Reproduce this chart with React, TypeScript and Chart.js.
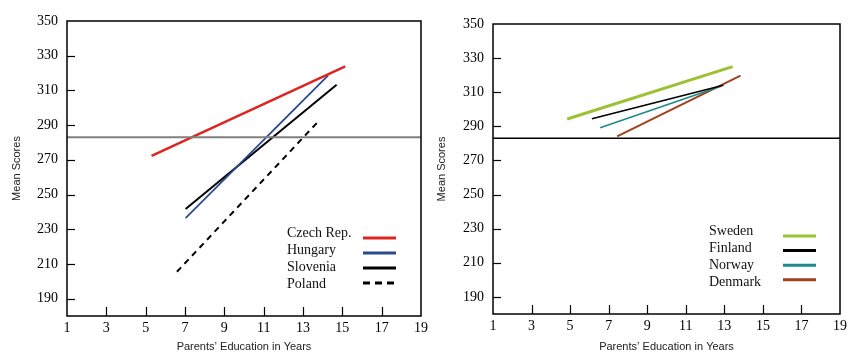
import React, { useEffect, useRef } from "react";
import { Chart, registerables } from "chart.js";

Chart.register(...registerables);

// ---- axes ----
const xTicks = [1, 3, 5, 7, 9, 11, 13, 15, 17, 19];
const yTicks = [190, 210, 230, 250, 270, 290, 310, 330, 350];
const xMin = 1;
const xMax = 19;
const yMin = 180;
const yMax = 350;
const xTitle = "Parents\u2019 Education in Years";
const yTitle = "Mean Scores";

// international average line
const averageScore = 283;

// ---- left panel ----
const czechRep = [
  { x: 5.3, y: 272.3 },
  { x: 15.15, y: 323.8 },
];
const hungary = [
  { x: 7.03, y: 236.4 },
  { x: 14.28, y: 318.6 },
];
const slovenia = [
  { x: 7.03, y: 241.7 },
  { x: 14.71, y: 313.3 },
];
const poland = [
  { x: 6.59, y: 205.5 },
  { x: 13.86, y: 293.1 },
];

// ---- right panel ----
const sweden = [
  { x: 4.85, y: 294.3 },
  { x: 13.43, y: 325.0 },
];
const finland = [
  { x: 6.13, y: 294.5 },
  { x: 12.95, y: 314.1 },
];
const norway = [
  { x: 6.56, y: 289.2 },
  { x: 12.82, y: 313.5 },
];
const denmark = [
  { x: 7.44, y: 284.1 },
  { x: 13.84, y: 319.7 },
];

const SERIF = '"Liberation Serif", "Times New Roman", serif';
const SANS = '"Liberation Sans", Arial, sans-serif';

const framePlugin = {
  id: "frame",
  afterDraw(chart: any, _args: any, opts: any) {
    const { ctx, chartArea: a, scales } = chart;
    const xs = scales.x;
    const ys = scales.y;
    ctx.save();
    // inner tick marks
    ctx.strokeStyle = "#000";
    ctx.lineWidth = 1.2;
    ctx.setLineDash([]);
    ys.ticks.forEach((t: any) => {
      if (t.value <= ys.min || t.value >= ys.max) return;
      const py = Math.round(ys.getPixelForValue(t.value)) + 0.5;
      ctx.beginPath();
      ctx.moveTo(a.left, py);
      ctx.lineTo(a.left + 8, py);
      ctx.stroke();
    });
    xs.ticks.forEach((t: any) => {
      if (t.value <= xs.min || t.value >= xs.max) return;
      const px = Math.round(xs.getPixelForValue(t.value)) + 0.5;
      ctx.beginPath();
      ctx.moveTo(px, a.bottom);
      ctx.lineTo(px, a.bottom - 9);
      ctx.stroke();
    });
    // frame
    ctx.lineWidth = 1.5;
    ctx.strokeRect(a.left, a.top, a.right - a.left, a.bottom - a.top);

    // legend
    const items = chart.data.datasets.filter((d: any) => d.inLegend !== false);
    ctx.font = `14px ${SERIF}`;
    ctx.textBaseline = "middle";
    ctx.textAlign = "left";
    items.forEach((d: any, i: number) => {
      ctx.fillStyle = "#111";
      ctx.fillText(d.label, a.left + opts.textDx, a.top + opts.textDy + i * opts.textStep);
      const ly = a.top + opts.lineDy + i * opts.lineStep;
      ctx.strokeStyle = d.borderColor;
      ctx.lineWidth = 3;
      ctx.setLineDash(d.borderDash ? [7, 5] : []);
      ctx.beginPath();
      ctx.moveTo(a.left + opts.lineDx, ly);
      ctx.lineTo(a.left + opts.lineDx + 33, ly);
      ctx.stroke();
    });
    ctx.restore();
  },
};

function makeOptions(cfg: any) {
  return {
    animation: false,
    responsive: false,
    maintainAspectRatio: false,
    layout: { padding: { top: cfg.padTop, right: cfg.padRight, left: 0, bottom: 0 } },
    plugins: {
      legend: { display: false },
      tooltip: { enabled: false },
      frame: cfg.legend,
    },
    elements: { point: { radius: 0 } },
    scales: {
      x: {
        type: "linear",
        min: xMin,
        max: xMax,
        afterBuildTicks: (s: any) => {
          s.ticks = xTicks.map((v) => ({ value: v }));
        },
        afterFit: (s: any) => {
          s.height = cfg.xHeight;
          s.paddingLeft = 0;
          s.paddingRight = 0;
        },
        grid: { display: false, drawTicks: false },
        border: { display: false },
        ticks: {
          autoSkip: false,
          maxRotation: 0,
          padding: 4,
          color: "#000",
          font: { family: SERIF, size: 14 },
          callback: (v: any) => String(v),
        },
        title: {
          display: true,
          text: xTitle,
          color: "#222",
          font: { family: SANS, size: 11, lineHeight: 1 },
          padding: { top: 0, bottom: 0 },
        },
      },
      y: {
        type: "linear",
        min: yMin,
        max: yMax,
        afterBuildTicks: (s: any) => {
          s.ticks = yTicks.map((v) => ({ value: v }));
        },
        afterFit: (s: any) => {
          s.width = cfg.yWidth;
          s.paddingTop = 0;
          s.paddingBottom = 0;
        },
        grid: { display: false, drawTicks: false },
        border: { display: false },
        ticks: {
          autoSkip: false,
          padding: 9,
          color: "#000",
          font: { family: SERIF, size: 14 },
          callback: (v: any) => String(v),
        },
        title: {
          display: true,
          text: yTitle,
          color: "#222",
          font: { family: SANS, size: 11 },
          padding: { top: 10, bottom: 0 },
        },
      },
    },
  };
}

function avgDataset(color: string, width: number) {
  return {
    label: "Average",
    inLegend: false,
    data: [
      { x: xMin, y: averageScore },
      { x: xMax, y: averageScore },
    ],
    borderColor: color,
    borderWidth: width,
    pointRadius: 0,
  };
}

function PanelChart({ datasets, cfg, width, left }: any) {
  const ref = useRef<HTMLCanvasElement | null>(null);
  useEffect(() => {
    if (!ref.current) return;
    const chart = new Chart(ref.current, {
      type: "line",
      data: { datasets },
      options: makeOptions(cfg) as any,
      plugins: [framePlugin],
    });
    return () => chart.destroy();
  }, []);
  return (
    <canvas
      ref={ref}
      width={width}
      height={352}
      style={{ position: "absolute", left, top: 0, width, height: 352, display: "block" }}
    />
  );
}

const leftDatasets = [
  avgDataset("#7f7f7f", 2),
  { label: "Czech Rep.", data: czechRep, borderColor: "#dd2420", borderWidth: 2.5 },
  { label: "Hungary", data: hungary, borderColor: "#2c4893", borderWidth: 1.8 },
  { label: "Slovenia", data: slovenia, borderColor: "#000000", borderWidth: 2 },
  { label: "Poland", data: poland, borderColor: "#000000", borderWidth: 2, borderDash: [6, 5] },
];

const rightDatasets = [
  avgDataset("#000000", 1.5),
  { label: "Sweden", data: sweden, borderColor: "#9cc132", borderWidth: 3 },
  { label: "Finland", data: finland, borderColor: "#000000", borderWidth: 1.6 },
  { label: "Norway", data: norway, borderColor: "#1d8a8a", borderWidth: 1.6 },
  { label: "Denmark", data: denmark, borderColor: "#a3401f", borderWidth: 2 },
];

const leftCfg = {
  padTop: 21,
  padRight: 19,
  yWidth: 67,
  xHeight: 36,
  legend: { textDx: 220, textDy: 212, textStep: 17, lineDx: 296, lineDy: 217, lineStep: 15 },
};

const rightCfg = {
  padTop: 24,
  padRight: 11,
  yWidth: 68,
  xHeight: 38,
  legend: { textDx: 216, textDy: 207.5, textStep: 17, lineDx: 290, lineDy: 212, lineStep: 14.6 },
};

export default function App() {
  return (
    <div style={{ position: "absolute", left: 0, top: 0, width: 851, height: 352, background: "#fff" }}>
      <PanelChart datasets={leftDatasets} cfg={leftCfg} width={440} left={0} />
      <PanelChart datasets={rightDatasets} cfg={rightCfg} width={426} left={425} />
    </div>
  );
}
